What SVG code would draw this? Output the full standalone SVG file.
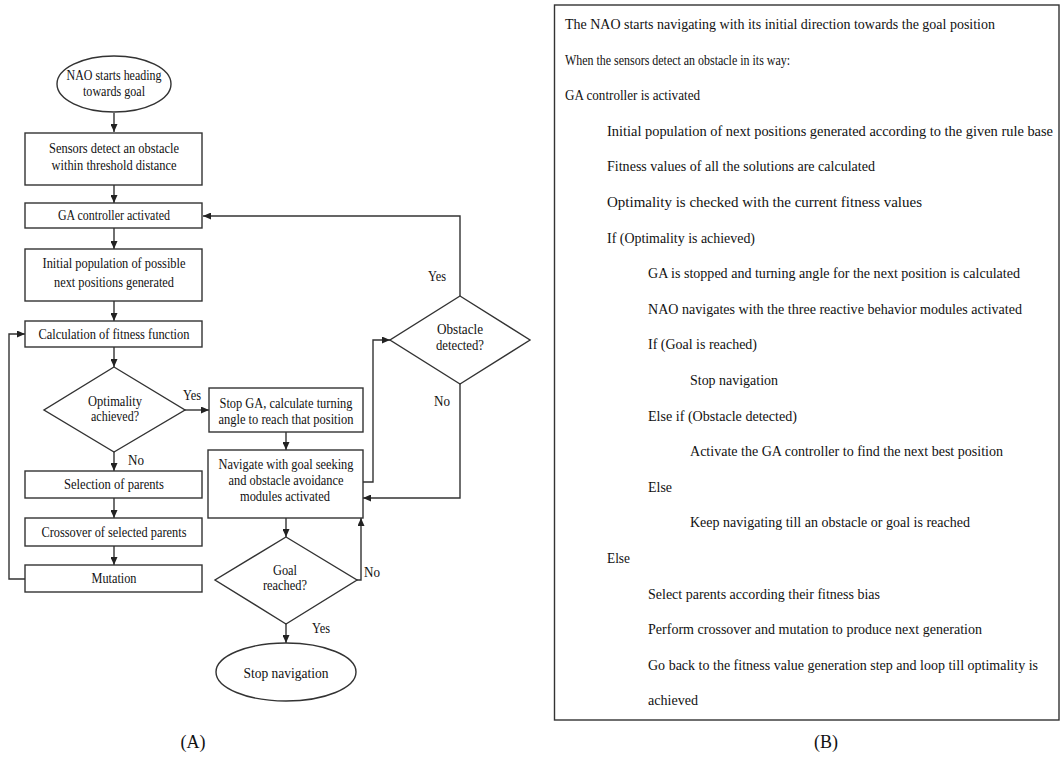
<svg xmlns="http://www.w3.org/2000/svg" width="1061" height="764" viewBox="0 0 1061 764">
<defs>
<marker id="arr" markerWidth="8" markerHeight="7" refX="8" refY="3.5" orient="auto" markerUnits="userSpaceOnUse">
<path d="M0,0 L8,3.5 L0,7 z" fill="#222"/>
</marker>
<style>
.s{fill:#fff;stroke:#333;stroke-width:1.4}
.c{fill:none;stroke:#333;stroke-width:1.4}
.t{font-family:"Liberation Serif","Times New Roman",serif;font-size:14px;fill:#111;text-anchor:middle}
.l{font-family:"Liberation Serif","Times New Roman",serif;font-size:14px;fill:#111}
.p{font-family:"Liberation Serif","Times New Roman",serif;font-size:14px;fill:#111}
.cap{font-family:"Liberation Serif","Times New Roman",serif;font-size:18px;fill:#111;text-anchor:middle}
</style>
</defs>
<rect width="1061" height="764" fill="#fff"/>

<g id="connectors">
<path class="c" d="M114,113 V132" marker-end="url(#arr)"/>
<path class="c" d="M114,185 V203" marker-end="url(#arr)"/>
<path class="c" d="M114,228 V249" marker-end="url(#arr)"/>
<path class="c" d="M114,301 V321" marker-end="url(#arr)"/>
<path class="c" d="M114,347 V367" marker-end="url(#arr)"/>
<path class="c" d="M185,410 H209" marker-end="url(#arr)"/>
<path class="c" d="M114,452 V471" marker-end="url(#arr)"/>
<path class="c" d="M114,498 V518" marker-end="url(#arr)"/>
<path class="c" d="M114,546 V565" marker-end="url(#arr)"/>
<path class="c" d="M25,579 H9 V334 H25" marker-end="url(#arr)"/>
<path class="c" d="M286,432 V450" marker-end="url(#arr)"/>
<path class="c" d="M286,518 V537" marker-end="url(#arr)"/>
<path class="c" d="M357,580 H361 V518" marker-end="url(#arr)"/>
<path class="c" d="M286,624 V643" marker-end="url(#arr)"/>
<path class="c" d="M363,482 H373 V340 H390" marker-end="url(#arr)"/>
<path class="c" d="M460,296 V216 H203" marker-end="url(#arr)"/>
<path class="c" d="M460,384 V498 H363" marker-end="url(#arr)"/>
<text class="l" x="183" y="400" textLength="18" lengthAdjust="spacingAndGlyphs">Yes</text>
<text class="l" x="128" y="465" textLength="16" lengthAdjust="spacingAndGlyphs">No</text>
<text class="l" x="364" y="577" textLength="16" lengthAdjust="spacingAndGlyphs">No</text>
<text class="l" x="312" y="633" textLength="18" lengthAdjust="spacingAndGlyphs">Yes</text>
<text class="l" x="428" y="281" textLength="18" lengthAdjust="spacingAndGlyphs">Yes</text>
<text class="l" x="434" y="406" textLength="16" lengthAdjust="spacingAndGlyphs">No</text>
</g>

<g id="start">
<ellipse class="s" cx="114" cy="84" rx="57" ry="28"/>
<text class="t" x="114" y="80" textLength="95" lengthAdjust="spacingAndGlyphs">NAO starts heading</text>
<text class="t" x="114" y="96" textLength="62" lengthAdjust="spacingAndGlyphs">towards goal</text>
</g>
<g id="sensors">
<rect class="s" x="25" y="133" width="177" height="52"/>
<text class="t" x="114" y="153" textLength="130" lengthAdjust="spacingAndGlyphs">Sensors detect an obstacle</text>
<text class="t" x="114" y="170" textLength="125" lengthAdjust="spacingAndGlyphs">within threshold distance</text>
</g>
<g id="ga">
<rect class="s" x="25" y="203" width="177" height="25"/>
<text class="t" x="114" y="220" textLength="112" lengthAdjust="spacingAndGlyphs">GA controller activated</text>
</g>
<g id="initpop">
<rect class="s" x="25" y="249" width="177" height="52"/>
<text class="t" x="114" y="268" textLength="143" lengthAdjust="spacingAndGlyphs">Initial population of possible</text>
<text class="t" x="114" y="287" textLength="120" lengthAdjust="spacingAndGlyphs">next positions generated</text>
</g>
<g id="fitness">
<rect class="s" x="25" y="321" width="177" height="26"/>
<text class="t" x="114" y="339" textLength="151" lengthAdjust="spacingAndGlyphs">Calculation of fitness function</text>
</g>
<g id="optimality">
<polygon class="s" points="114,367 185,410 114,452 44,410"/>
<text class="t" x="115" y="406" textLength="54" lengthAdjust="spacingAndGlyphs">Optimality</text>
<text class="t" x="115" y="421" textLength="48" lengthAdjust="spacingAndGlyphs">achieved?</text>
</g>
<g id="selection">
<rect class="s" x="25" y="471" width="177" height="27"/>
<text class="t" x="114" y="489" textLength="100" lengthAdjust="spacingAndGlyphs">Selection of parents</text>
</g>
<g id="crossover">
<rect class="s" x="25" y="518" width="177" height="28"/>
<text class="t" x="114" y="537" textLength="145" lengthAdjust="spacingAndGlyphs">Crossover of selected parents</text>
</g>
<g id="mutation">
<rect class="s" x="25" y="565" width="177" height="27"/>
<text class="t" x="114" y="583" textLength="45" lengthAdjust="spacingAndGlyphs">Mutation</text>
</g>
<g id="stopga">
<rect class="s" x="209" y="388" width="154" height="44"/>
<text class="t" x="286" y="408" textLength="133" lengthAdjust="spacingAndGlyphs">Stop GA, calculate turning</text>
<text class="t" x="286" y="424" textLength="135" lengthAdjust="spacingAndGlyphs">angle to reach that position</text>
</g>
<g id="navigate">
<rect class="s" x="208" y="450" width="155" height="68"/>
<text class="t" x="286" y="469" textLength="135" lengthAdjust="spacingAndGlyphs">Navigate with goal seeking</text>
<text class="t" x="286" y="485" textLength="115" lengthAdjust="spacingAndGlyphs">and obstacle avoidance</text>
<text class="t" x="285" y="501" textLength="90" lengthAdjust="spacingAndGlyphs">modules activated</text>
</g>
<g id="goal">
<polygon class="s" points="286,537 357,580 286,624 215,580"/>
<text class="t" x="285" y="575" textLength="24" lengthAdjust="spacingAndGlyphs">Goal</text>
<text class="t" x="285" y="590" textLength="44" lengthAdjust="spacingAndGlyphs">reached?</text>
</g>
<g id="stopnav">
<ellipse class="s" cx="286" cy="672" rx="70" ry="29"/>
<text class="t" x="286" y="678" textLength="85" lengthAdjust="spacingAndGlyphs">Stop navigation</text>
</g>
<g id="obstacle">
<polygon class="s" points="460,296 530,340 460,384 390,340"/>
<text class="t" x="460" y="334" textLength="46" lengthAdjust="spacingAndGlyphs">Obstacle</text>
<text class="t" x="460" y="350" textLength="48" lengthAdjust="spacingAndGlyphs">detected?</text>
</g>

<g id="pseudocode">
<rect x="554.5" y="5" width="504.5" height="715" fill="#fff" stroke="#333" stroke-width="1.4"/>
<text class="p" x="565" y="29" textLength="430" lengthAdjust="spacingAndGlyphs">The NAO starts navigating with its initial direction towards the goal position</text>
<text class="p" x="565" y="64.6" textLength="225" lengthAdjust="spacingAndGlyphs">When the sensors detect an obstacle in its way:</text>
<text class="p" x="565" y="100.2" textLength="135" lengthAdjust="spacingAndGlyphs">GA controller is activated</text>
<text class="p" x="607" y="135.8" textLength="446" lengthAdjust="spacingAndGlyphs">Initial population of next positions generated according to the given rule base</text>
<text class="p" x="607" y="171.4" textLength="268" lengthAdjust="spacingAndGlyphs">Fitness values of all the solutions are calculated</text>
<text class="p" x="607" y="207" textLength="315" lengthAdjust="spacingAndGlyphs">Optimality is checked with the current fitness values</text>
<text class="p" x="607" y="242.6" textLength="148" lengthAdjust="spacingAndGlyphs">If (Optimality is achieved)</text>
<text class="p" x="648" y="278.2" textLength="372" lengthAdjust="spacingAndGlyphs">GA is stopped and turning angle for the next position is calculated</text>
<text class="p" x="648" y="313.8" textLength="374" lengthAdjust="spacingAndGlyphs">NAO navigates with the three reactive behavior modules activated</text>
<text class="p" x="648" y="349.4" textLength="109" lengthAdjust="spacingAndGlyphs">If (Goal is reached)</text>
<text class="p" x="690" y="385" textLength="88" lengthAdjust="spacingAndGlyphs">Stop navigation</text>
<text class="p" x="648" y="420.6" textLength="149" lengthAdjust="spacingAndGlyphs">Else if (Obstacle detected)</text>
<text class="p" x="690" y="456.2" textLength="313" lengthAdjust="spacingAndGlyphs">Activate the GA controller to find the next best position</text>
<text class="p" x="648" y="491.8" textLength="24" lengthAdjust="spacingAndGlyphs">Else</text>
<text class="p" x="690" y="527.4" textLength="280" lengthAdjust="spacingAndGlyphs">Keep navigating till an obstacle or goal is reached</text>
<text class="p" x="607" y="563" textLength="23" lengthAdjust="spacingAndGlyphs">Else</text>
<text class="p" x="648" y="598.6" textLength="232" lengthAdjust="spacingAndGlyphs">Select parents according their fitness bias</text>
<text class="p" x="648" y="634.2" textLength="334" lengthAdjust="spacingAndGlyphs">Perform crossover and mutation to produce next generation</text>
<text class="p" x="648" y="669.8" textLength="390" lengthAdjust="spacingAndGlyphs">Go back to the fitness value generation step and loop till optimality is</text>
<text class="p" x="648" y="705.4" textLength="50" lengthAdjust="spacingAndGlyphs">achieved</text>
</g>

<text class="cap" x="193" y="748">(A)</text>
<text class="cap" x="826" y="748">(B)</text>
</svg>
